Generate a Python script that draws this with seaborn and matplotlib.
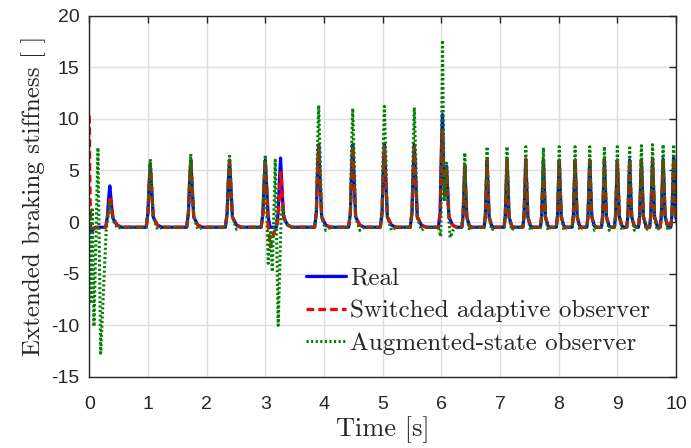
import matplotlib
matplotlib.use("Agg")
import matplotlib.pyplot as plt
import seaborn as sns
import pandas as pd

# ---------------- data ----------------
# 0 s .. 6.3 s, per series
real_t_early = [0.00, 0.04, 0.10, 0.28, 0.31, 0.33, 0.35, 0.375, 0.40, 0.47, 0.55,
                0.97, 1.00, 1.02, 1.04, 1.065, 1.09, 1.16, 1.24,
                1.66, 1.69, 1.71, 1.73, 1.755, 1.78, 1.85, 1.93,
                2.32, 2.35, 2.37, 2.39, 2.415, 2.44, 2.51, 2.59,
                2.93, 2.96, 2.98, 3.00, 3.025, 3.05, 3.08,
                3.19, 3.22, 3.24, 3.26, 3.285, 3.31, 3.38, 3.46,
                3.84, 3.87, 3.89, 3.91, 3.935, 3.96, 4.03, 4.11,
                4.42, 4.45, 4.47, 4.49, 4.515, 4.54, 4.61, 4.69,
                4.96, 4.99, 5.01, 5.03, 5.055, 5.08, 5.15, 5.23,
                5.47, 5.50, 5.52, 5.54, 5.565, 5.59, 5.66, 5.74,
                5.95, 5.98, 6.00, 6.02, 6.04, 6.06, 6.075, 6.09, 6.105, 6.13, 6.19, 6.26]
real_y_early = [-0.4, -0.9, -0.5, -0.5, 0.6, 2.3, 3.5, 2.0, 0.4, -0.3, -0.5,
                -0.5, 0.9, 3.6, 5.6, 3.1, 0.5, -0.3, -0.5,
                -0.5, 0.9, 3.9, 6.0, 3.3, 0.5, -0.3, -0.5,
                -0.5, 0.9, 3.9, 6.0, 3.3, 0.5, -0.3, -0.5,
                -0.5, 0.9, 3.9, 6.0, 3.3, 0.5, -0.5,
                -0.5, 0.9, 4.0, 6.2, 3.4, 0.5, -0.3, -0.5,
                -0.5, 0.9, 4.9, 7.5, 4.1, 0.5, -0.3, -0.5,
                -0.5, 0.9, 4.9, 7.5, 4.1, 0.5, -0.3, -0.5,
                -0.5, 0.9, 4.9, 7.5, 4.1, 0.5, -0.3, -0.5,
                -0.5, 0.9, 4.9, 7.5, 4.1, 0.5, -0.3, -0.5,
                -0.5, 0.9, 6.8, 10.4, 4.5, 2.8, 4.5, 5.4, 3.5, 0.5, -0.3, -0.5]

switched_t_early = [0.00, 0.01, 0.025, 0.06, 0.28, 0.31, 0.335, 0.355, 0.38, 0.41, 0.48, 0.56,
                    0.97, 1.00, 1.02, 1.04, 1.065, 1.09, 1.16, 1.24,
                    1.66, 1.69, 1.71, 1.73, 1.755, 1.78, 1.85, 1.93,
                    2.32, 2.35, 2.37, 2.39, 2.415, 2.44, 2.51, 2.59,
                    2.93, 2.96, 2.98, 3.00, 3.025, 3.045, 3.065, 3.09, 3.11, 3.14, 3.18,
                    3.22, 3.245, 3.265, 3.29, 3.315, 3.38, 3.46,
                    3.84, 3.87, 3.89, 3.91, 3.935, 3.96, 4.03, 4.11,
                    4.42, 4.45, 4.47, 4.49, 4.515, 4.54, 4.61, 4.69,
                    4.96, 4.99, 5.01, 5.03, 5.055, 5.08, 5.15, 5.23,
                    5.47, 5.50, 5.52, 5.54, 5.565, 5.59, 5.66, 5.74,
                    5.95, 5.98, 6.00, 6.02, 6.04, 6.06, 6.075, 6.09, 6.105, 6.13, 6.19, 6.26]
switched_y_early = [10.3, 4.0, -0.9, -0.6, -0.5, 0.3, 1.6, 2.5, 1.5, 0.3, -0.3, -0.5,
                    -0.5, 0.9, 3.6, 5.6, 3.1, 0.5, -0.3, -0.5,
                    -0.5, 0.9, 3.9, 6.0, 3.3, 0.5, -0.3, -0.5,
                    -0.5, 0.9, 3.9, 6.0, 3.3, 0.5, -0.3, -0.5,
                    -0.5, 0.9, 3.9, 6.0, 3.3, 0.0, -1.4, -2.4, -1.6, -1.2, -0.6,
                    0.3, 3.1, 4.8, 2.6, 0.5, -0.3, -0.5,
                    -0.5, 0.9, 4.7, 7.3, 4.0, 0.5, -0.3, -0.5,
                    -0.5, 0.9, 4.7, 7.3, 4.0, 0.5, -0.3, -0.5,
                    -0.5, 0.9, 4.7, 7.3, 4.0, 0.5, -0.3, -0.5,
                    -0.5, 0.9, 4.7, 7.3, 4.0, 0.5, -0.3, -0.5,
                    -0.5, 0.9, 5.8, 8.9, 4.0, 2.5, 4.2, 5.0, 3.2, 0.5, -0.3, -0.5]

augmented_t_early = [0.00, 0.024, 0.05, 0.08, 0.148, 0.194, 0.29, 0.33, 0.355, 0.38, 0.42, 0.48, 0.56,
                     0.97, 1.00, 1.02, 1.04, 1.065, 1.09, 1.16, 1.24,
                     1.66, 1.69, 1.71, 1.73, 1.755, 1.78, 1.85, 1.93,
                     2.32, 2.35, 2.37, 2.39, 2.415, 2.44, 2.51, 2.59,
                     2.93, 2.96, 2.98, 3.00, 3.05, 3.09, 3.12, 3.17, 3.22, 3.27, 3.30, 3.34, 3.42,
                     3.84, 3.87, 3.89, 3.91, 3.935, 3.96, 4.03, 4.11,
                     4.42, 4.45, 4.47, 4.49, 4.515, 4.54, 4.61, 4.69,
                     4.96, 4.99, 5.01, 5.03, 5.055, 5.08, 5.15, 5.23,
                     5.47, 5.50, 5.52, 5.54, 5.565, 5.59, 5.66, 5.74,
                     5.95, 5.99, 6.02, 6.05, 6.09, 6.12, 6.15, 6.20, 6.28]
augmented_y_early = [0.8, -7.7, 1.4, -10.1, 7.2, -12.7, -0.6, 1.0, 2.0, 1.0, 0.0, -0.6, -0.5,
                     -0.5, 0.9, 4.0, 6.1, 3.4, 0.5, -0.7, -0.5,
                     -0.5, 0.9, 4.3, 6.6, 3.6, 0.5, -0.7, -0.5,
                     -0.5, 0.9, 4.3, 6.6, 3.6, 0.5, -0.7, -0.5,
                     -0.5, 0.9, 4.2, 6.5, -4.0, -1.0, -4.8, 6.0, -10.0, 0.5, 1.5, 0.0, -0.5,
                     -0.5, 0.9, 7.3, 11.3, 6.2, 0.5, -0.8, -0.5,
                     -0.5, 0.9, 7.2, 11.0, 6.1, 0.5, -0.8, -0.5,
                     -0.5, 0.9, 7.3, 11.2, 6.2, 0.5, -0.8, -0.5,
                     -0.5, 0.9, 7.2, 11.1, 6.1, 0.5, -0.8, -0.5,
                     -0.5, -1.4, 17.6, 2.0, 5.7, 1.0, -1.5, -0.8, -0.5]

# 6.3 s .. 10 s: the fast pulses, same vertex times for all series
late_t = [6.35, 6.37, 6.387, 6.40, 6.416, 6.435, 6.48, 6.52,
          6.73, 6.75, 6.767, 6.78, 6.796, 6.815, 6.86, 6.90,
          7.07, 7.09, 7.107, 7.12, 7.136, 7.155, 7.20, 7.24,
          7.39, 7.41, 7.427, 7.44, 7.456, 7.475, 7.52, 7.56,
          7.69, 7.71, 7.727, 7.74, 7.756, 7.775, 7.82, 7.86,
          7.96, 7.98, 7.997, 8.01, 8.026, 8.045, 8.09, 8.13,
          8.23, 8.25, 8.267, 8.28, 8.296, 8.315, 8.36, 8.40,
          8.48, 8.50, 8.517, 8.53, 8.546, 8.565, 8.61, 8.65,
          8.73, 8.75, 8.767, 8.78, 8.796, 8.815, 8.86, 8.90,
          8.95, 8.97, 8.987, 9.00, 9.016, 9.035, 9.08, 9.12,
          9.16, 9.18, 9.197, 9.21, 9.226, 9.245, 9.29, 9.33,
          9.36, 9.38, 9.397, 9.41, 9.426, 9.445, 9.49, 9.53,
          9.55, 9.57, 9.587, 9.60, 9.616, 9.635, 9.68, 9.72,
          9.73, 9.75, 9.767, 9.78, 9.796, 9.815, 9.86, 9.90,
          9.91, 9.93, 9.947, 9.96, 9.976, 9.995, 10.04, 10.08]
real_y_late = [-0.5, 0.6, 3.2, 5.4, 3.0, 0.5, -0.4, -0.5,
               -0.5, 0.6, 3.6, 6.0, 3.3, 0.5, -0.4, -0.5,
               -0.5, 0.6, 3.7, 6.1, 3.4, 0.5, -0.4, -0.5,
               -0.5, 0.6, 3.7, 6.1, 3.4, 0.5, -0.4, -0.5,
               -0.5, 0.6, 3.6, 6.0, 3.3, 0.5, -0.4, -0.5,
               -0.5, 0.6, 3.6, 6.0, 3.3, 0.5, -0.4, -0.5,
               -0.5, 0.6, 3.6, 6.0, 3.3, 0.5, -0.4, -0.5,
               -0.5, 0.6, 3.6, 6.0, 3.3, 0.5, -0.4, -0.5,
               -0.5, 0.6, 3.6, 6.0, 3.3, 0.5, -0.4, -0.5,
               -0.5, 0.6, 3.6, 6.0, 3.3, 0.5, -0.4, -0.5,
               -0.5, 0.6, 3.6, 6.0, 3.3, 0.5, -0.4, -0.5,
               -0.5, 0.6, 3.6, 6.0, 3.3, 0.5, -0.4, -0.5,
               -0.5, 0.6, 3.7, 6.1, 3.4, 0.5, -0.4, -0.5,
               -0.5, 0.6, 3.7, 6.1, 3.4, 0.5, -0.4, -0.5,
               -0.5, 0.6, 3.7, 6.2, 3.4, 0.5, -0.4, -0.5]
switched_y_late = [-0.5, 0.6, 3.2, 5.4, 3.0, 0.5, -0.4, -0.5,
                   -0.5, 0.6, 3.6, 6.0, 3.3, 0.5, -0.4, -0.5,
                   -0.5, 0.6, 3.7, 6.1, 3.4, 0.5, -0.4, -0.5,
                   -0.5, 0.6, 3.7, 6.1, 3.4, 0.5, -0.4, -0.5,
                   -0.5, 0.6, 3.6, 6.0, 3.3, 0.5, -0.4, -0.5,
                   -0.5, 0.6, 3.6, 6.0, 3.3, 0.5, -0.4, -0.5,
                   -0.5, 0.6, 3.6, 6.0, 3.3, 0.5, -0.4, -0.5,
                   -0.5, 0.6, 3.6, 6.0, 3.3, 0.5, -0.4, -0.5,
                   -0.5, 0.6, 3.6, 6.0, 3.3, 0.5, -0.4, -0.5,
                   -0.5, 0.6, 3.6, 6.0, 3.3, 0.5, -0.4, -0.5,
                   -0.5, 0.6, 3.6, 6.0, 3.3, 0.5, -0.4, -0.5,
                   -0.5, 0.6, 3.6, 6.0, 3.3, 0.5, -0.4, -0.5,
                   -0.5, 0.6, 3.7, 6.1, 3.4, 0.5, -0.4, -0.5,
                   -0.5, 0.6, 3.7, 6.1, 3.4, 0.5, -0.4, -0.5,
                   -0.5, 0.6, 3.7, 6.2, 3.4, 0.5, -0.4, -0.5]
augmented_y_late = [-0.5, 0.6, 4.0, 6.7, 3.7, 0.5, -0.8, -0.5,
                    -0.5, 0.6, 4.4, 7.3, 4.0, 0.5, -0.8, -0.5,
                    -0.5, 0.6, 4.4, 7.3, 4.0, 0.5, -0.8, -0.5,
                    -0.5, 0.6, 4.4, 7.3, 4.0, 0.5, -0.8, -0.5,
                    -0.5, 0.6, 4.3, 7.2, 4.0, 0.5, -0.8, -0.5,
                    -0.5, 0.6, 4.4, 7.3, 4.0, 0.5, -0.8, -0.5,
                    -0.5, 0.6, 4.4, 7.3, 4.0, 0.5, -0.8, -0.5,
                    -0.5, 0.6, 4.4, 7.3, 4.0, 0.5, -0.8, -0.5,
                    -0.5, 0.6, 4.4, 7.3, 4.0, 0.5, -0.8, -0.5,
                    -0.5, 0.6, 4.4, 7.3, 4.0, 0.5, -0.8, -0.5,
                    -0.5, 0.6, 4.4, 7.4, 4.1, 0.5, -0.8, -0.5,
                    -0.5, 0.6, 4.4, 7.4, 4.1, 0.5, -0.8, -0.5,
                    -0.5, 0.6, 4.5, 7.5, 4.1, 0.5, -0.8, -0.5,
                    -0.5, 0.6, 4.5, 7.5, 4.1, 0.5, -0.8, -0.5,
                    -0.5, 0.6, 4.5, 7.5, 4.1, 0.5, -0.8, -0.5]

series_names = ["Real", "Switched adaptive observer", "Augmented-state observer"]
x_ticks = [0, 1, 2, 3, 4, 5, 6, 7, 8, 9, 10]
y_ticks = [-15, -10, -5, 0, 5, 10, 15, 20]
x_label = "Time [s]"
y_label = "Extended braking stiffness [ ]"

# ---------------- styling ----------------
sns.set_theme(style="white")
plt.rcParams["font.family"] = ["Liberation Sans", "DejaVu Sans"]
plt.rcParams["axes.unicode_minus"] = False
SERIF = ["cmr10", "DejaVu Serif"]

fig = plt.figure(figsize=(6.91, 4.48), dpi=100)
ax = fig.add_axes([0.1292, 0.1585, 0.8491, 0.8069])

df_real = pd.DataFrame({"t": real_t_early + late_t, "v": real_y_early + real_y_late})
df_sw = pd.DataFrame({"t": switched_t_early + late_t, "v": switched_y_early + switched_y_late})
df_aug = pd.DataFrame({"t": augmented_t_early + late_t, "v": augmented_y_early + augmented_y_late})

sns.lineplot(data=df_real, x="t", y="v", ax=ax, color=(0, 0, 1), lw=2.3,
             sort=False, estimator=None, label=series_names[0])
sns.lineplot(data=df_sw, x="t", y="v", ax=ax, color=(1, 0, 0), lw=2.3,
             sort=False, estimator=None, label=series_names[1],
             dashes=False, linestyle=(0, (2.4, 1.3)))
sns.lineplot(data=df_aug, x="t", y="v", ax=ax, color=(0, 0.5, 0), lw=2.2,
             sort=False, estimator=None, label=series_names[2],
             dashes=False, linestyle=(0, (0.7, 0.8)))

ax.set_xlim(0, 10)
ax.set_ylim(-15, 20)
ax.set_xticks(x_ticks)
ax.set_yticks(y_ticks)
ax.set_xticklabels([str(v) for v in x_ticks])
ax.set_yticklabels([str(v) for v in y_ticks])
ax.grid(True, color="#dfdfdf", lw=1.0)
ax.set_axisbelow(True)
for s in ax.spines.values():
    s.set_color("#262626")
    s.set_linewidth(1.0)
ax.tick_params(direction="in", length=5, width=1.0, colors="#262626",
               top=True, right=True, labelsize=14, pad=7)
ax.tick_params(axis="x", pad=14)

ax.set_xlabel(x_label, fontsize=19, family=SERIF, color="#262626", labelpad=2)
ax.set_ylabel(y_label, fontsize=18, family=SERIF, color="#262626", labelpad=4)

leg = ax.legend(loc="upper left", bbox_to_anchor=(0.37, 0.303), frameon=False,
                prop={"family": SERIF, "size": 18}, handlelength=1.6,
                handletextpad=0.15, labelspacing=0.4, borderaxespad=0,
                borderpad=0)

fig.savefig("out.png", dpi=100)
